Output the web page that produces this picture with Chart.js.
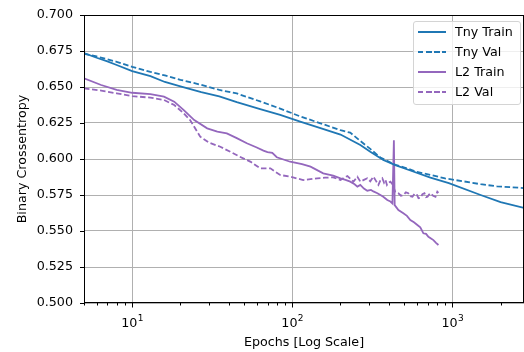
<!DOCTYPE html>
<html><head><meta charset="utf-8">
<script src="https://cdn.jsdelivr.net/npm/chart.js@4.4.1/dist/chart.umd.min.js"></script>
<style>
html,body{margin:0;padding:0;background:#fff;}
#wrap{position:relative;width:524px;height:352px;}
canvas{display:block}
#legend{position:absolute;left:413px;top:21px;width:108px;height:84px;border:1px solid #d4d4d4;border-radius:3px;background:rgba(255,255,255,0.8);font-family:"DejaVu Sans";font-size:12.7px;color:#000;box-sizing:border-box}
.row{position:absolute;left:0;width:106px;height:20px;}
.smp{position:absolute;left:4px;width:28px;top:9px;height:2px;}
.txt{position:absolute;left:41px;top:0;line-height:20px;white-space:nowrap}
</style></head>
<body>
<div id="wrap"><canvas id="c" width="524" height="352"></canvas>
<div id="legend"></div></div>
<script>
// ---- data ----
const seriesNames = ['Tny Train', 'Tny Val', 'L2 Train', 'L2 Val'];
const tnyTrainEpochs = [5, 6, 7, 8, 10, 13, 16, 20, 27, 35, 45, 63, 84, 112, 150, 200, 266, 307, 370, 440, 546, 729, 950, 1500, 2000, 2800];
const tnyTrainLoss   = [0.6735, 0.6703, 0.6678, 0.6653, 0.661, 0.6576, 0.6535, 0.6505, 0.6465, 0.6435, 0.6395, 0.6347, 0.6306, 0.626, 0.6215, 0.617, 0.6097, 0.605, 0.5993, 0.5958, 0.592, 0.587, 0.5833, 0.575, 0.570, 0.566];
const tnyValEpochs = [5, 6, 7, 8, 10, 13, 16, 20, 27, 35, 45, 63, 84, 112, 150, 200, 230, 266, 307, 355, 440, 520, 600, 729, 900, 1170, 1500, 1900, 2800];
const tnyValLoss   = [0.673, 0.6712, 0.6693, 0.6675, 0.664, 0.6605, 0.658, 0.655, 0.6515, 0.648, 0.6455, 0.640, 0.635, 0.6296, 0.6248, 0.620, 0.6183, 0.6125, 0.607, 0.601, 0.596, 0.5935, 0.591, 0.589, 0.5865, 0.5845, 0.5825, 0.581, 0.5798];
const l2TrainEpochs = [5, 6.4, 8, 10, 13, 15.8, 18.3, 21, 24.4, 29.4, 34, 39, 45, 52, 60, 66, 70, 75, 80, 97, 115, 130, 156, 180, 200, 215, 230, 245, 255, 266, 280, 294, 310, 321, 340, 355, 370, 392, 410, 422, 431, 436, 460, 494, 520, 546, 575, 604, 630, 659, 685, 708, 735, 761, 790, 818];
const l2TrainLoss   = [0.656, 0.6514, 0.648, 0.646, 0.645, 0.6433, 0.6398, 0.634, 0.627, 0.6213, 0.619, 0.6178, 0.6145, 0.6109, 0.608, 0.6058, 0.6048, 0.6042, 0.6012, 0.5981, 0.5965, 0.5947, 0.590, 0.5885, 0.5866, 0.5855, 0.5843, 0.5825, 0.5808, 0.582, 0.5795, 0.578, 0.5785, 0.5775, 0.5762, 0.575, 0.5738, 0.5715, 0.5705, 0.5692, 0.613, 0.568, 0.5646, 0.5623, 0.5605, 0.5576, 0.556, 0.5542, 0.5525, 0.5484, 0.548, 0.546, 0.5448, 0.5437, 0.5418, 0.5403];
const l2ValEpochs = [5, 6.4, 8, 10, 13, 15.8, 18.3, 21, 23, 26.6, 30, 35.5, 41, 47, 55, 63, 73, 84, 97, 107, 117, 130, 143, 160, 180, 200, 210, 221, 231, 241, 255, 266, 280, 294, 307, 321, 333, 345, 355, 365, 374, 382, 390, 398, 410, 422, 440, 460, 477, 494, 512, 530, 546, 563, 580, 598, 614, 631, 650, 669, 685, 699, 714, 729, 757, 784, 805, 818];
const l2ValLoss   = [0.649, 0.6475, 0.6456, 0.6437, 0.6426, 0.641, 0.6375, 0.6317, 0.627, 0.6155, 0.6115, 0.6085, 0.605, 0.6016, 0.598, 0.5935, 0.5935, 0.5889, 0.5877, 0.5865, 0.5854, 0.586, 0.5866, 0.587, 0.5873, 0.5854, 0.587, 0.5882, 0.5862, 0.5843, 0.5877, 0.5843, 0.5855, 0.5866, 0.5845, 0.5877, 0.5848, 0.582, 0.5852, 0.5866, 0.5836, 0.5854, 0.582, 0.5835, 0.5843, 0.5825, 0.577, 0.5762, 0.5745, 0.575, 0.5768, 0.5762, 0.5742, 0.5738, 0.5758, 0.5755, 0.5728, 0.5731, 0.5755, 0.5762, 0.5735, 0.5738, 0.5752, 0.5762, 0.5745, 0.5738, 0.5773, 0.5765];
const yTickStart = 0.5, yTickEnd = 0.7, yTickStep = 0.025;
const xMin = 5, xMax = 2800;
const xMajorValues = [10, 100, 1000];
const xLabelBase = '10';
const xLabelExponents = ['1', '2', '3'];

// ---- styles ----
const BLUE = '#1f77b4', PURPLE = '#9467bd';
const DASH = [5.5, 2.6];
const FONT = {family: 'DejaVu Sans', size: 12.7};

function pts(xs, ys){ return xs.map((x,i)=>({x:x, y:ys[i]})); }
function isMajor(v){ const l = Math.log10(v); return Math.abs(l - Math.round(l)) < 1e-9; }
function isNice(v){ const p = Math.pow(10, Math.floor(Math.log10(v)+1e-9)); const m = v/p; return Math.abs(m - Math.round(m)) < 1e-9; }

const seriesData = [
  {label: seriesNames[0], data: pts(tnyTrainEpochs, tnyTrainLoss), color: BLUE, dash: []},
  {label: seriesNames[1], data: pts(tnyValEpochs, tnyValLoss), color: BLUE, dash: DASH},
  {label: seriesNames[2], data: pts(l2TrainEpochs, l2TrainLoss), color: PURPLE, dash: []},
  {label: seriesNames[3], data: pts(l2ValEpochs, l2ValLoss), color: PURPLE, dash: DASH},
];

const frameTicks = {
  id: 'frameTicks',
  afterDraw(chart){
    const {ctx, chartArea: a, scales: {x, y}} = chart;
    ctx.save();
    ctx.strokeStyle = '#000'; ctx.lineWidth = 1;
    ctx.beginPath();
    y.ticks.forEach(t => { const py = Math.round(y.getPixelForValue(t.value)) + 0.5; ctx.moveTo(a.left - 4, py); ctx.lineTo(a.left, py); });
    x.ticks.forEach(t => {
      if (!isNice(t.value)) return;
      const px = Math.round(x.getPixelForValue(t.value)) + 0.5;
      const len = isMajor(t.value) ? 4.5 : 2.5;
      ctx.moveTo(px, a.bottom); ctx.lineTo(px, a.bottom + len);
    });
    ctx.stroke();
    ctx.strokeRect(Math.round(a.left) + 0.5, Math.round(a.top) + 0.5, Math.round(a.right - a.left) - 1, Math.round(a.bottom - a.top) - 1);
    // x tick labels: base with raised exponent (like 10^n)
    ctx.fillStyle = '#000';
    ctx.textBaseline = 'alphabetic';
    ctx.textAlign = 'left';
    xMajorValues.forEach((v, i) => {
      const px = x.getPixelForValue(v);
      ctx.font = '12.7px "DejaVu Sans"';
      const wb = ctx.measureText(xLabelBase).width;
      ctx.font = '9px "DejaVu Sans"';
      const we = ctx.measureText(xLabelExponents[i]).width;
      const x0 = px - (wb + we) / 2;
      ctx.font = '12.7px "DejaVu Sans"';
      ctx.fillText(xLabelBase, x0, a.bottom + 23.5);
      ctx.font = '9px "DejaVu Sans"';
      ctx.fillText(xLabelExponents[i], x0 + wb + 0.3, a.bottom + 18);
    });
    ctx.restore();
  }
};

new Chart(document.getElementById('c'), {
  type: 'line',
  data: {datasets: seriesData.map(s => ({
    label: s.label, data: s.data, borderColor: s.color, backgroundColor: s.color,
    borderWidth: 1.8, borderDash: s.dash, pointRadius: 0, tension: 0, fill: false
  }))},
  options: {
    responsive: false, animation: false, devicePixelRatio: 1,
    layout: {padding: {top: 15, right: 0, left: 0, bottom: 0}},
    plugins: {legend: {display: false}, tooltip: {enabled: false}},
    scales: {
      x: {
        type: 'logarithmic', min: xMin, max: xMax,
        afterBuildTicks: (s) => {
          const out = [];
          for (let e = 0; e <= 3; e++) for (let m = 1; m <= 9; m++) {
            const v = m * Math.pow(10, e);
            if (v >= xMin && v <= xMax) out.push({value: v});
          }
          s.ticks = out;
        },
        afterFit: (s) => { s.height = 49; s.paddingLeft = 0; s.paddingRight = 0; },
        grid: {color: c => (c.tick && isMajor(c.tick.value)) ? '#b0b0b0' : 'rgba(0,0,0,0)', lineWidth: 1, drawTicks: false},
        border: {display: false},
        ticks: {display: false, autoSkip: false},
        title: {display: true, text: 'Epochs [Log Scale]', color: '#000', font: FONT, padding: {top: 3, bottom: 2}}
      },
      y: {
        min: yTickStart, max: yTickEnd,
        afterFit: (s) => { s.width = 84; s.paddingTop = 0; s.paddingBottom = 0; },
        grid: {color: '#b0b0b0', lineWidth: 1, drawTicks: false},
        border: {display: false},
        ticks: {stepSize: yTickStep, color: '#000', font: FONT, padding: 11, callback: v => v.toFixed(3)},
        title: {display: true, text: 'Binary Crossentropy', color: '#000', font: FONT, padding: {top: 15, bottom: 0}}
      }
    }
  },
  plugins: [frameTicks]
});

// legend (HTML, built from series)
const lg = document.getElementById('legend');
seriesData.forEach((s, i) => {
  const row = document.createElement('div'); row.className = 'row'; row.style.top = (i * 20) + 'px';
  const smp = document.createElement('div'); smp.className = 'smp';
  smp.style.background = s.dash.length
    ? 'repeating-linear-gradient(to right, ' + s.color + ' 0px, ' + s.color + ' 5.5px, transparent 5.5px, transparent 8.1px)'
    : s.color;
  const t = document.createElement('div'); t.className = 'txt'; t.textContent = s.label;
  row.appendChild(smp); row.appendChild(t); lg.appendChild(row);
});
</script>
</body></html>
